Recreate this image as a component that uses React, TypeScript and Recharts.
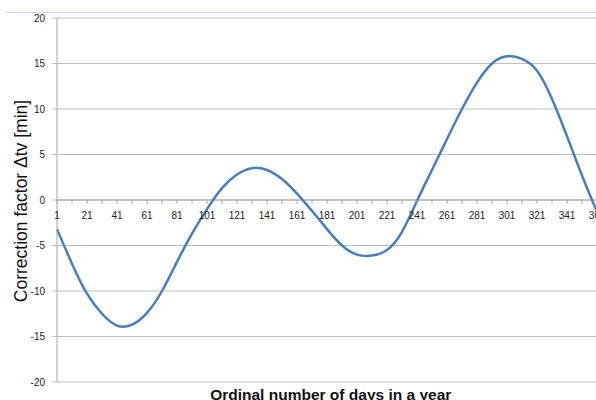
import {
  LineChart,
  Line,
  XAxis,
  YAxis,
  CartesianGrid,
  ReferenceLine,
  Label
} from 'recharts';

// day of year (every 10th day) and the correction
const days = [
  1, 11, 21, 31, 41, 51, 61, 71, 81, 91, 101, 111, 121, 131, 141, 151, 161, 171, 181,
  191, 201, 211, 221, 231, 241, 251, 261, 271, 281, 291, 301, 311, 321, 331, 341, 351, 361
];
const correction = [
  -3.2, -7.0, -10.3, -12.5, -13.8, -13.7, -12.4, -10.0, -6.8, -3.7, -1.0, 1.3, 2.8, 3.5, 3.3, 2.3, 0.7, -1.2, -3.2,
  -5.0, -6.0, -6.1, -5.5, -3.5, -0.1, 3.3, 6.7, 10.0, 12.9, 15.0, 15.8, 15.5, 14.2, 11.1, 7.0, 2.7, -1.3
];
const dayTicks = [
  1, 11, 21, 31, 41, 51, 61, 71, 81, 91, 101, 111, 121, 131, 141, 151, 161, 171, 181,
  191, 201, 211, 221, 231, 241, 251, 261, 271, 281, 291, 301, 311, 321, 331, 341, 351, 361
];
const valueTicks = [-20, -15, -10, -5, 0, 5, 10, 15, 20];

const Y_MIN = -20;
const Y_MAX = 20;
const TOP = 18;
const PLOT_H = 364;
// the x axis sits on the zero line, not at the bottom of the plot
const ZERO_SHIFT = (PLOT_H * (0 - Y_MIN)) / (Y_MAX - Y_MIN);

const data = days.map((d, i) => ({ day: d, value: correction[i] }));

const DayTick = (props: any) => {
  const { x, y, payload } = props;
  const zeroY = y - ZERO_SHIFT;
  const labelled = (payload.value - 1) % 20 === 0;
  return (
    <g>
      <line x1={x} x2={x} y1={zeroY} y2={zeroY + 4} stroke="#a6a6a6" />
      {labelled && (
        <text x={x} y={zeroY + 15} dy="0.355em" textAnchor="middle" fontSize={10} fill="#222">
          {payload.value}
        </text>
      )}
    </g>
  );
};

export default function App() {
  return (
    <div
      style={{
        position: 'absolute',
        left: 0,
        top: 0,
        width: 596,
        height: 400,
        overflow: 'hidden',
        background: '#fff',
        fontFamily: 'Liberation Sans'
      }}
    >
      <div
        style={{
          position: 'absolute',
          left: 5,
          top: 12,
          width: 600,
          height: 1,
          background: '#c6d9f1'
        }}
      />
      <LineChart
        width={610}
        height={400}
        data={data}
        margin={{ top: TOP, right: 5.5, bottom: 0, left: 0 }}
      >
        <CartesianGrid vertical={false} stroke="#bfbfbf" />
        <XAxis
          dataKey="day"
          type="number"
          domain={[1, 366]}
          ticks={dayTicks}
          interval={0}
          height={18}
          axisLine={false}
          tickLine={false}
          tickSize={0}
          tickMargin={0}
          tick={<DayTick />}
        >
          <Label
            value="Ordinal number of days in a year"
            position="insideBottom"
            offset={0}
            fontSize={15.5}
            fontWeight="bold"
            fill="#111"
          />
        </XAxis>
        <YAxis
          domain={[Y_MIN, Y_MAX]}
          ticks={valueTicks}
          width={57}
          axisLine={{ stroke: '#a6a6a6' }}
          tickLine={{ stroke: '#bfbfbf' }}
          tickSize={5}
          tickMargin={7}
          tick={{ fontSize: 10, fill: '#222' }}
        >
          <Label
            value="Correction factor Δtv [min]"
            angle={-90}
            position="center"
            dx={-8}
            dy={1}
            fontSize={17.5}
            fill="#111"
          />
        </YAxis>
        <ReferenceLine y={0} stroke="#a6a6a6" />
        <Line
          type="natural"
          dataKey="value"
          stroke="#4a7ebb"
          strokeWidth={2.5}
          dot={false}
          isAnimationActive={false}
        />
      </LineChart>
    </div>
  );
}
